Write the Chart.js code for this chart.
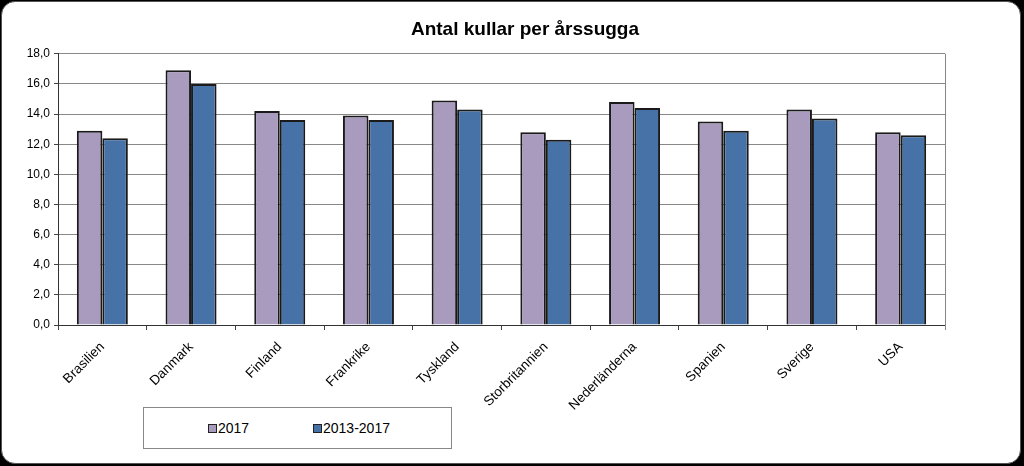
<!DOCTYPE html>
<html>
<head>
<meta charset="utf-8">
<script src="https://cdn.jsdelivr.net/npm/chart.js@4.4.0/dist/chart.umd.min.js"></script>
<style>
    html, body { margin: 0; padding: 0; background: #000; }
    body { width: 1024px; height: 466px; position: relative; overflow: hidden; font-family: "Liberation Sans", Arial, sans-serif; }
    #frame {
        position: absolute; left: 1px; top: 1px; width: 1018px; height: 461px;
        background: #fff; border: 1px solid #555; border-radius: 14px;
    }
    #chart { position: absolute; left: 26px; top: 0; }
    #legend {
        position: absolute; left: 143px; top: 407px; width: 307px; height: 40px;
        border: 1px solid #888; background: #fff;
        display: flex; align-items: center; font-size: 14px; color: #000;
    }
    #legend .item { position: absolute; display: flex; align-items: center; }
    #legend .swatch { width: 7px; height: 7px; border: 1px solid #222; margin-right: 1px; }
</style>
</head>
<body>
<div id="frame"></div>
<canvas id="chart" width="998" height="466"></canvas>
<div id="legend"></div>
<script>
// Chart data
const countries = ['Brasilien', 'Danmark', 'Finland', 'Frankrike', 'Tyskland',
    'Storbritannien', 'Nederländerna', 'Spanien', 'Sverige', 'USA'];
const values2017 = [12.9, 16.9, 14.2, 13.9, 14.9, 12.8, 14.8, 13.5, 14.3, 12.8];
const values2013to2017 = [12.4, 16.0, 13.6, 13.6, 14.3, 12.3, 14.4, 12.9, 13.7, 12.6];
const seriesNames = ['2017', '2013-2017'];
const seriesColors = ['#a99bbe', '#4672a8'];
const yTicks = [0, 2, 4, 6, 8, 10, 12, 14, 16, 18];

const fontFamily = '"Liberation Sans", Arial, sans-serif';

// Right edge of the plot area (Excel style frame)
const plotFrame = {
    id: 'plotFrame',
    afterDatasetsDraw(chart) {
        const { ctx, chartArea } = chart;
        ctx.save();
        ctx.strokeStyle = '#888';
        ctx.lineWidth = 1;
        ctx.beginPath();
        ctx.moveTo(Math.round(chartArea.right) + 0.5, chartArea.top);
        ctx.lineTo(Math.round(chartArea.right) + 0.5, chartArea.bottom + 5);
        ctx.stroke();
        ctx.restore();
    }
};

const chart = new Chart(document.getElementById('chart'), {
    type: 'bar',
    data: {
        labels: countries,
        datasets: [
            {
                label: seriesNames[0],
                data: values2017,
                backgroundColor: seriesColors[0],
                borderColor: '#1a1a1a',
                borderWidth: 2
            },
            {
                label: seriesNames[1],
                data: values2013to2017,
                backgroundColor: seriesColors[1],
                borderColor: '#1a1a1a',
                borderWidth: 2
            }
        ]
    },
    options: {
        responsive: false,
        animation: false,
        layout: {
            padding: 0
        },
        datasets: {
            bar: { categoryPercentage: 0.575, barPercentage: 1.0 }
        },
        plugins: {
            legend: { display: false },
            tooltip: { enabled: false },
            title: {
                display: true,
                text: 'Antal kullar per årssugga',
                color: '#000',
                font: { family: fontFamily, size: 19, weight: 'bold' },
                padding: { top: 18, bottom: 13 }
            }
        },
        scales: {
            x: {
                grid: {
                    display: true,
                    drawOnChartArea: false,
                    drawTicks: true,
                    tickLength: 5,
                    color: '#444'
                },
                border: { color: '#333', width: 1 },
                ticks: {
                    color: '#000',
                    font: { family: fontFamily, size: 13.5 },
                    minRotation: 45,
                    maxRotation: 45,
                    padding: 9
                },
                afterFit(scale) { scale.height = 141; }
            },
            y: {
                min: 0,
                max: 18,
                afterBuildTicks(scale) {
                    scale.ticks = yTicks.map(v => ({ value: v }));
                },
                grid: {
                    color: '#888',
                    lineWidth: 1,
                    drawTicks: true,
                    tickLength: 4,
                    tickColor: '#444'
                },
                border: { color: '#333', width: 1 },
                ticks: {
                    color: '#000',
                    font: { family: fontFamily, size: 12 },
                    padding: 4,
                    callback: v => v.toFixed(1).replace('.', ',')
                },
                afterFit(scale) { scale.width = 32; }
            },
            // empty spacer on the right of the plot area
            spacer: {
                type: 'linear',
                position: 'right',
                display: true,
                grid: { display: false },
                border: { display: false },
                ticks: { display: false },
                afterFit(scale) { scale.width = 79; }
            }
        }
    },
    plugins: [plotFrame]
});

// Legend box (HTML, built from the datasets)
const legendEl = document.getElementById('legend');
const legendOffsets = [64, 169];
chart.data.datasets.forEach((ds, i) => {
    const item = document.createElement('div');
    item.className = 'item';
    item.style.left = legendOffsets[i] + 'px';
    const sw = document.createElement('span');
    sw.className = 'swatch';
    sw.style.background = ds.backgroundColor;
    const txt = document.createElement('span');
    txt.textContent = ds.label;
    item.appendChild(sw);
    item.appendChild(txt);
    legendEl.appendChild(item);
});
</script>
</body>
</html>
